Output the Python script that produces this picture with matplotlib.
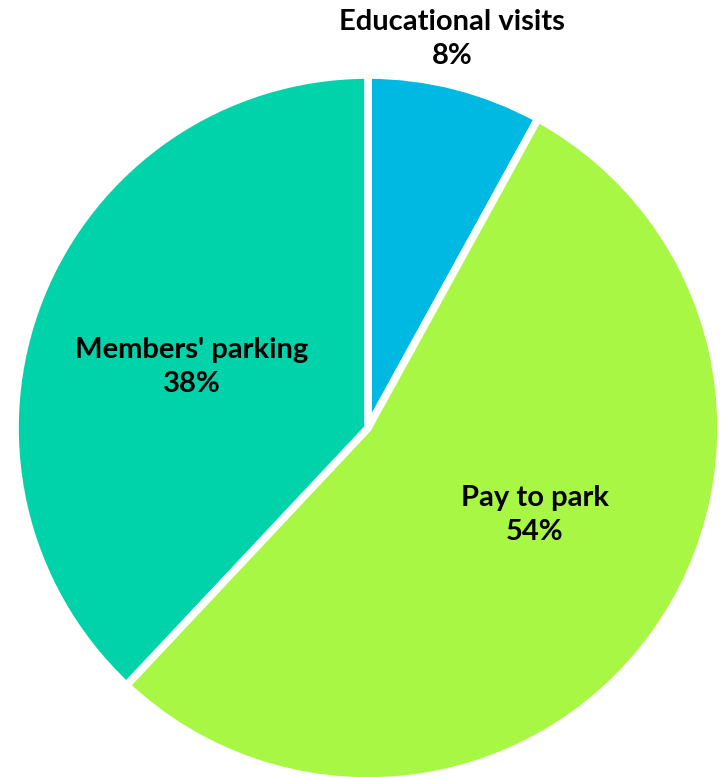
import matplotlib
matplotlib.use("Agg")
import matplotlib.pyplot as plt

categories = ["Educational visits", "Pay to park", "Members' parking"]
shares = [8, 54, 38]
colors = ["#00B9E3", "#A8F745", "#00D3A9"]

W, H = 724, 777
fig = plt.figure(figsize=(W / 100, H / 100), dpi=100)
ax = fig.add_axes([0, 0, 1, 1])

cx, cy, r = 368, H - 428, 353
ax.pie(shares, colors=colors, startangle=90, counterclock=False,
       radius=r, center=(cx, cy), frame=True,
       wedgeprops=dict(edgecolor="white", linewidth=5.5))
ax.set_xlim(0, W)
ax.set_ylim(0, H)
ax.set_aspect("equal")
ax.axis("off")

label_pos = [(452, H - 39), (535, H - 515), (192, H - 367)]
for name, val, (x, y) in zip(categories, shares, label_pos):
    ax.text(x, y, f"{name}\n{val}%", ha="center", va="center",
            fontsize=21, fontweight="bold", family="Lato",
            linespacing=1.4, color="black")

fig.savefig("out.png", dpi=100)
